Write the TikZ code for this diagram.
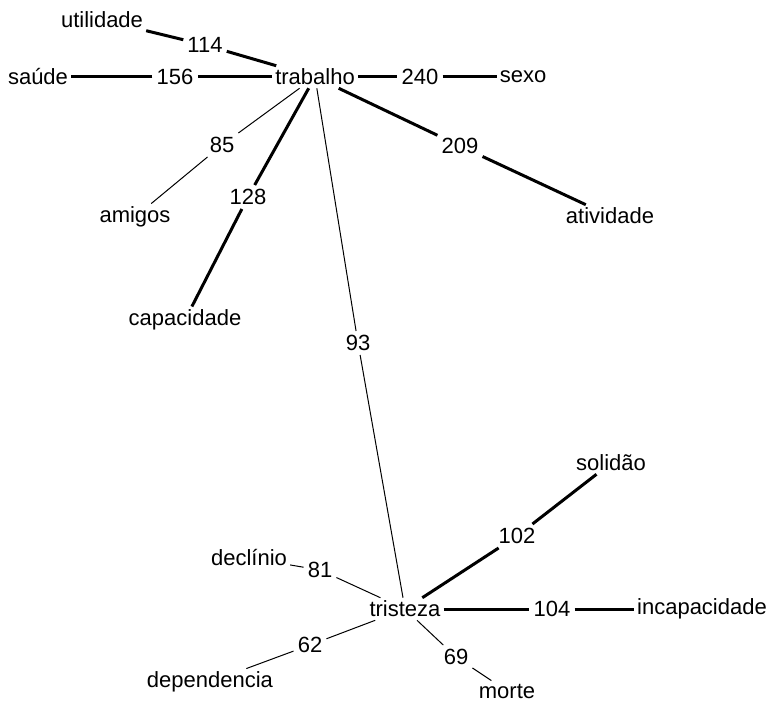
\documentclass[tikz,border=0pt]{standalone}
\usepackage{fontspec}
\setmainfont{Liberation Sans}
\tikzset{
  word/.style={inner sep=3pt,font=\fontsize{22}{24}\selectfont},
  weight/.style={fill=white,inner sep=4pt,font=\fontsize{22}{24}\selectfont},
  thin/.style={draw=black,line width=1pt},
  strong/.style={draw=black,line width=3pt},
}
\begin{document}
\begin{tikzpicture}[x=1pt,y=-1pt]
\useasboundingbox (0,0) rectangle (770,711);

% words
\node[word] (trabalho) at (315,77) {trabalho};
\node[word] (utilidade) at (102,20) {utilidade};
\node[word] (saude) at (38,77) {saúde};
\node[word] (sexo) at (523,77) {sexo};
\node[word] (amigos) at (135,217) {amigos};
\node[word] (atividade) at (610,216) {atividade};
\node[word] (capacidade) at (185,320) {capacidade};
\node[word] (tristeza) at (405,609) {tristeza};
\node[word] (solidao) at (611,463) {solidão};
\node[word] (declinio) at (249,558) {declínio};
\node[word] (incapacidade) at (702,609) {incapacidade};
\node[word] (dependencia) at (210,682) {dependencia};
\node[word] (morte) at (507,691) {morte};

% weights
\node[weight] (w114) at (205,45) {114};
\node[weight] (w156) at (175,77) {156};
\node[weight] (w240) at (420,77) {240};
\node[weight] (w85) at (222,145) {85};
\node[weight] (w209) at (460,146) {209};
\node[weight] (w128) at (248,197) {128};
\node[weight] (w93) at (358,343) {93};
\node[weight] (w102) at (517,536) {102};
\node[weight] (w81) at (320,570) {81};
\node[weight] (w104) at (552,609) {104};
\node[weight] (w62) at (310,645) {62};
\node[weight] (w69) at (456,657) {69};

% links
\draw[strong] (trabalho) -- (w114); \draw[strong] (w114) -- (utilidade);
\draw[strong] (trabalho) -- (w156); \draw[strong] (w156) -- (saude);
\draw[strong] (trabalho) -- (w240); \draw[strong] (w240) -- (sexo);
\draw[thin] (trabalho) -- (w85); \draw[thin] (w85) -- (amigos);
\draw[strong] (trabalho) -- (w209); \draw[strong] (w209) -- (atividade);
\draw[strong] (trabalho) -- (w128); \draw[strong] (w128) -- (capacidade);
\draw[thin] (trabalho) -- (w93); \draw[thin] (w93) -- (tristeza);
\draw[strong] (tristeza) -- (w102); \draw[strong] (w102) -- (solidao);
\draw[thin] (tristeza) -- (w81); \draw[thin] (w81) -- (declinio);
\draw[strong] (tristeza) -- (w104); \draw[strong] (w104) -- (incapacidade);
\draw[thin] (tristeza) -- (w62); \draw[thin] (w62) -- (dependencia);
\draw[thin] (tristeza) -- (w69); \draw[thin] (w69) -- (morte);

\end{tikzpicture}
\end{document}
